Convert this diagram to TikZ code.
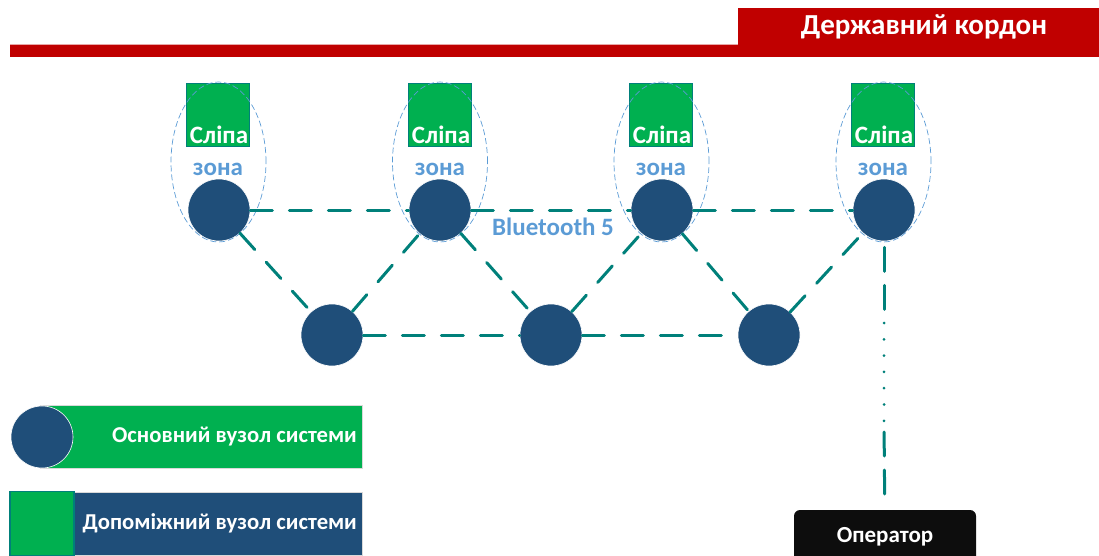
\documentclass[tikz,border=0pt]{standalone}
\usepackage{fontspec}
\setmainfont{Carlito}
\usepackage{color}

\definecolor{vuzol}{HTML}{1F4E79}
\definecolor{zelen}{HTML}{00B050}
\definecolor{khvylia}{HTML}{00807A}
\definecolor{kordon}{HTML}{C00000}
\definecolor{zona}{HTML}{5B9BD5}

\begin{document}
\begin{tikzpicture}[x=1pt, y=-1pt, font=\bfseries\fontsize{25}{28}\selectfont,
    main/.style={circle, fill=vuzol, draw=white, line width=0.6pt, minimum size=62pt, inner sep=0pt},
    aux/.style={rectangle, fill=zelen, draw=khvylia, line width=1.8pt, minimum size=63pt, inner sep=0pt},
    link/.style={draw=khvylia, line width=3pt, line cap=round, dash pattern=on 22pt off 17pt},
    dots/.style={draw=khvylia, line width=3pt, line cap=round, dash pattern=on 0pt off 16.3pt},
    zone/.style={draw=zona, line width=0.7pt, dash pattern=on 6pt off 3pt},
    legbox/.style={rectangle, minimum height=63pt, inner sep=0pt},
    legtext/.style={text=white, anchor=east, inner sep=0pt, font=\bfseries\fontsize{22.7}{26}\selectfont}]
    \useasboundingbox (0,0) rectangle (1099,556);

    % border
    \fill[kordon] (10,44) rectangle (1099,57);
    \draw[kordon!35, line width=1pt] (10,44.5) -- (738,44.5);
    \fill[kordon] (738,8) rectangle (1099,45);
    \node[text=white, inner sep=0pt, font=\bfseries\fontsize{29}{32}\selectfont] (title) at (924,26.5) {Державний кордон};

    % blind zones
    \node[aux] (s1) at (218,115) {};
    \node[aux] (s2) at (440,115) {};
    \node[aux] (s3) at (661,115) {};
    \node[aux] (s4) at (883,115) {};
    \node[text=white] (b1) at (219,135) {Сліпа};
    \node[text=white] (b2) at (441,135) {Сліпа};
    \node[text=white] (b3) at (662,135) {Сліпа};
    \node[text=white] (b4) at (884,135) {Сліпа};
    \node[text=zona] (z1) at (218,169) {зона};
    \node[text=zona] (z2) at (440,169) {зона};
    \node[text=zona] (z3) at (661,169) {зона};
    \node[text=zona] (z4) at (883,169) {зона};

    % main nodes
    \node[main] (t1) at (219,210) {};
    \node[main] (t2) at (440,210) {};
    \node[main] (t3) at (662,210) {};
    \node[main] (t4) at (884,210) {};
    \node[main] (d1) at (332,335) {};
    \node[main] (d2) at (551,335) {};
    \node[main] (d3) at (769,335) {};

    \draw[zone] (218.5,162) ellipse [x radius=47.5pt, y radius=80pt];
    \draw[zone] (440,162) ellipse [x radius=47.5pt, y radius=80pt];
    \draw[zone] (661.5,162) ellipse [x radius=47.5pt, y radius=80pt];
    \draw[zone] (883.5,162) ellipse [x radius=47.5pt, y radius=80pt];

    \draw[link] (t1) -- (t2);
    \draw[link] (t2) -- (t3);
    \draw[link] (t3) -- (t4);
    \draw[link] (d1) -- (d2);
    \draw[link] (d2) -- (d3);
    \draw[link] (t1) -- (d1);
    \draw[link] (d1) -- (t2);
    \draw[link] (t2) -- (d2);
    \draw[link] (d2) -- (t3);
    \draw[link] (t3) -- (d3);
    \draw[link] (d3) -- (t4);
    \node[text=zona] (bt) at (553,227) {Bluetooth 5};

    % operator
    \node[rectangle, rounded corners=6pt, fill=black!95, text=white, minimum width=182pt,
        minimum height=54pt, inner sep=0pt, font=\bfseries\fontsize{23}{26}\selectfont] (op) at (885,537) {Оператор};
    \coordinate (c1) at (884,323);
    \coordinate (c2) at (884,421);
    \draw[link, dash pattern=on 24pt off 14pt, shorten <=6pt] (t4) -- (c1);
    \draw[dots] (c1) -- (c2);
    \draw[link, dash pattern=on 24pt off 14pt, shorten <=11pt, shorten >=14pt] (c2) -- (op);

    % legend
    \node[legbox, fill=zelen, draw=black!15, minimum width=322pt] (l1) at (201,437) {};
    \node[main] (lc) at (42,437) {};
    \node[legtext] (t_l1) at (357,437) {Основний вузол системи};
    \node[legbox, fill=vuzol, draw=black!15, minimum width=352pt] (l2) at (186,523.5) {};
    \node[aux, minimum size=64pt] (ls) at (42,523.5) {};
    \node[legtext] (t_l2) at (357,523.5) {Допоміжний вузол системи};
\end{tikzpicture}
\end{document}
